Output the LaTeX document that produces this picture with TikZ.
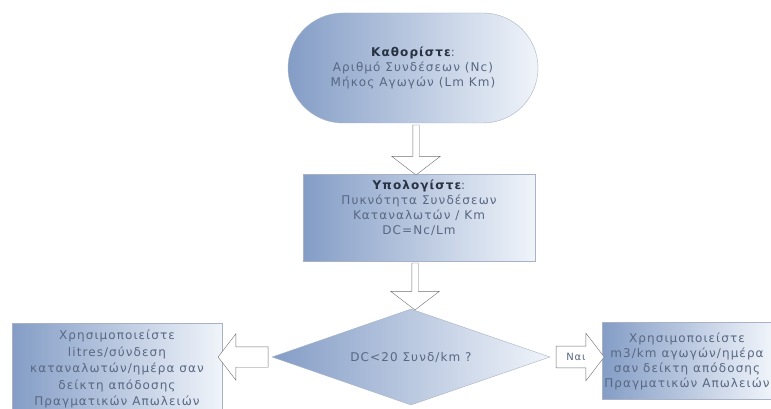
\documentclass[tikz,border=0pt]{standalone}
\usepackage{fontspec}
\newfontfamily\fnt[LetterSpace=9]{DejaVu Sans}
\usepackage{tikz}
\usetikzlibrary{positioning, calc, shapes.geometric, shapes.arrows}
\definecolor{fillA}{RGB}{132,157,198}
\definecolor{fillB}{RGB}{240,244,250}
\definecolor{edgec}{RGB}{168,178,196}
\definecolor{txt}{RGB}{88,104,130}
\definecolor{hdc}{RGB}{40,50,66}
\definecolor{arrc}{RGB}{112,112,112}
\tikzset{%
	flow/.style = {draw = edgec, thin, text = txt, align = center, left color = fillA, right color = fillB,
		font = \fnt\fontsize{12}{15}\selectfont},
	term/.style = {flow, rectangle, rounded corners = 55pt, minimum width = 250pt, minimum height = 110pt},
	proc/.style = {flow, rectangle, minimum width = 232pt, minimum height = 87pt},
	dec/.style = {flow, diamond, aspect = 2.9, inner sep = 0pt, minimum width = 278pt, minimum height = 96pt},
	res/.style = {flow, rectangle, inner sep = 2pt},
	blk/.style = {single arrow, draw = arrc, fill = white, thin, inner xsep = 0pt, single arrow tip angle = 105,
		text = txt, font = \fnt\fontsize{10}{12}\selectfont},
	vblk/.style = {blk, rotate = -90, inner ysep = 3pt, single arrow head extend = 21pt}
}
\begin{document}
\begin{tikzpicture}[x = 1pt, y = -1pt]
		\useasboundingbox (0,0) rectangle (771,409);
		% shapes
		\node [term] (start) at (413,68) {{\color{hdc}\bfseries Καθορίστε}:\\Αριθμό Συνδέσεων (Nc)\\Μήκος Αγωγών (Lm Km)};
		\node [proc] (calc) at (419,218) {{\color{hdc}\bfseries Υπολογίστε}:\\Πυκνότητα Συνδέσεων\\Καταναλωτών / Km\\DC=Nc/Lm\\[6pt]};
		\node [dec] (test) at (411,357) {DC<20 Συνδ/km ?};
		\node [res, minimum width = 210pt, minimum height = 92pt, font = \fnt\fontsize{12}{16.5}\selectfont] (left) at (117,369)
			{Χρησιμοποιείστε\\litres/σύνδεση\\καταναλωτών/ημέρα σαν\\δείκτη απόδοσης\\Πραγματικών Απωλειών};
		\node [res, minimum width = 170pt, minimum height = 77pt] (right) at (687,361)
			{Χρησιμοποιείστε\\m3/km αγωγών/ημέρα\\σαν δείκτη απόδοσης\\Πραγματικών Απωλειών};
		% block arrows
		\node [vblk, minimum height = 50pt] (a1) at ($(start.south)!.5!(calc.north)$) {};
		\node [vblk, minimum height = 47pt] (a2) at ($(calc.south)!.5!(test.north)$) {};
		\node [blk, rotate = 180, minimum height = 50pt, inner ysep = 10pt, single arrow head extend = 13pt]
			(a3) at ($(test.west)!.5!(left.east |- test.west)$) {};
		\node [blk, minimum height = 48pt, inner ysep = 7pt, inner xsep = 3pt, single arrow head extend = 13pt]
			(a4) at ($(test.east)!.5!(right.west |- test.east)$) {Ναι};
\end{tikzpicture}
\end{document}
